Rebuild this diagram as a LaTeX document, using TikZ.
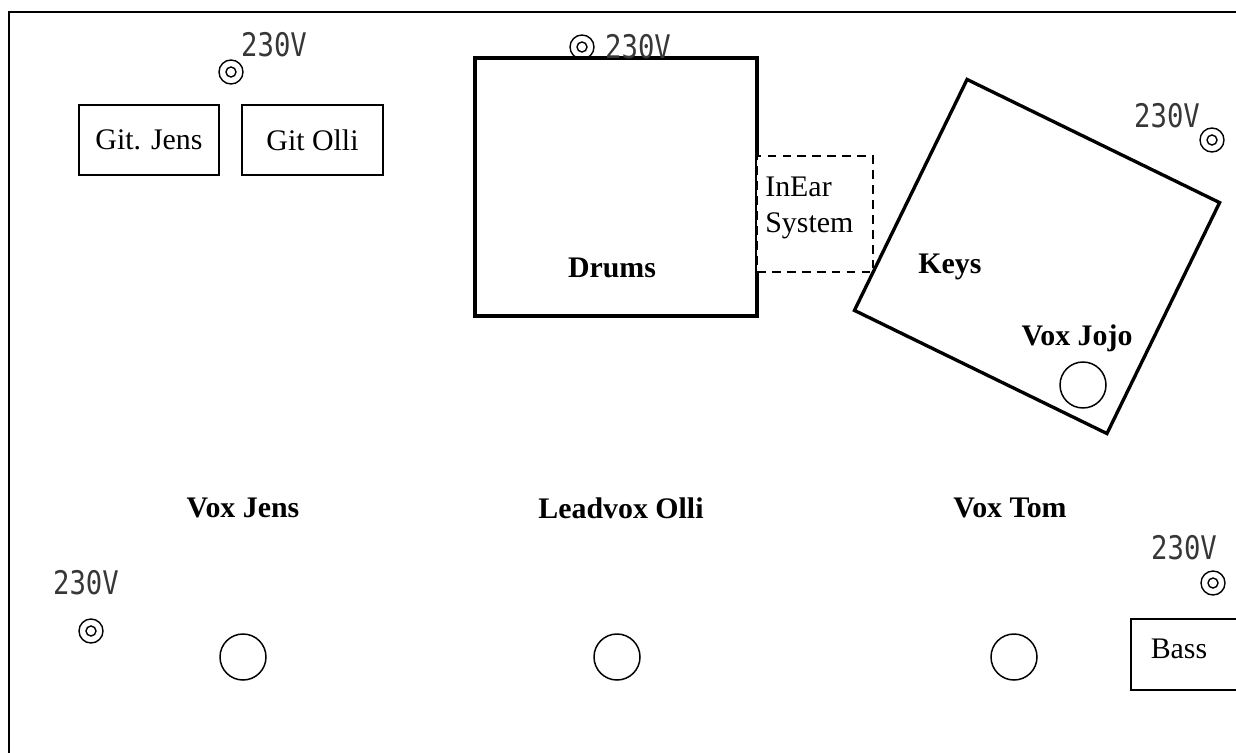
\documentclass[tikz,border=0pt]{standalone}
\usepackage{fontspec}
\setmainfont{Liberation Serif}
\newfontfamily\voltfont[FakeStretch=0.84]{DejaVu Sans Mono}
\definecolor{plug}{RGB}{55,55,55}

\begin{document}
\begin{tikzpicture}[x=0.02cm, y=-0.02cm, font=\fontsize{17}{20.5}\selectfont,
  box/.style={draw, line width=0.85pt, inner sep=0pt},
  riser/.style={draw, line width=1.9pt, inner sep=0pt},
  mic/.style={circle, draw, line width=0.85pt, minimum size=0.92cm, inner sep=0pt},
  socket/.style={circle, draw, line width=0.8pt, minimum size=0.48cm, inner sep=0pt,
    path picture={\draw[line width=0.8pt] (path picture bounding box.center) circle (0.1cm);}},
  volt/.style={font=\voltfont\fontsize{18.5}{18.5}\selectfont, text=plug, inner sep=0pt},
  lbl/.style={inner sep=0pt},
  who/.style={inner sep=0pt, font=\fontsize{17}{20.5}\selectfont\bfseries}]
\useasboundingbox (0,0) rectangle (1236,753);
\clip (0,0) rectangle (1236,753);

% ---- stage outline ----
\coordinate (edgelow) at (9,770);
\coordinate (edgecorner) at (9,12);
\coordinate (edgeright) at (1250,12);
\draw[line width=1.4pt] (edgelow) -- (edgecorner) -- (edgeright);

% ---- guitar amps ----
\node[box, minimum width=2.8cm, minimum height=1.4cm] (gitjens) at (149,140) {Git. Jens};
\node[box, minimum width=2.82cm, minimum height=1.4cm] (gitolli) at (312.5,140) {Git Olli};

% ---- drum riser + in-ear rack ----
\node[riser, minimum width=5.64cm, minimum height=5.16cm] (drums) at (616,187) {};
\node[who] (drumslbl) at (612,268) {Drums};
\node[box, dashed, dash pattern=on 5pt off 3.5pt, line width=1.1pt, fill=white,
      minimum width=2.32cm, minimum height=2.32cm] (inear) at (815,214) {};
\node[lbl, anchor=north west, align=left] (inearlbl) at (765,177) {InEar\\System};

% ---- keys (turned) ----
\node[riser, rotate=-26, minimum width=5.62cm, minimum height=5.14cm] (keys) at (1037,256.5) {};
\node[who] (keyslbl) at (950,267) {Keys};
\node[who] (jojolbl) at (1077,338) {Vox Jojo};
\node[mic] (micjojo) at (1083,385) {};

% ---- front line vocals ----
\node[who] (jenslbl) at (243,508) {Vox Jens};
\node[who] (ollilbl) at (621,508) {Leadvox Olli};
\node[who] (tomlbl) at (1010,508) {Vox Tom};
\node[mic] (micjens) at (243,657) {};
\node[mic] (micolli) at (617,657) {};
\node[mic] (mictom) at (1014,657) {};

% ---- bass amp (runs off the edge) ----
\node[box, anchor=west, minimum width=2.6cm, minimum height=1.42cm] (bass) at (1130,654.5) {};
\node[lbl] (basslbl) at (1179,649) {Bass};

% ---- power sockets ----
\node[socket] (sockgit) at (231,72) {};
\node[volt] (voltgit) at (274,45) {230V};
\node[socket] (sockdrums) at (582,47) {};
\node[volt] (voltdrums) at (638,47) {230V};
\node[socket] (sockkeys) at (1212,140) {};
\node[volt] (voltkeys) at (1167,116) {230V};
\node[socket] (sockbass) at (1213,583) {};
\node[volt] (voltbass) at (1184,548) {230V};
\node[socket] (sockjens) at (91,631) {};
\node[volt] (voltjens) at (86,583) {230V};
\end{tikzpicture}
\end{document}
